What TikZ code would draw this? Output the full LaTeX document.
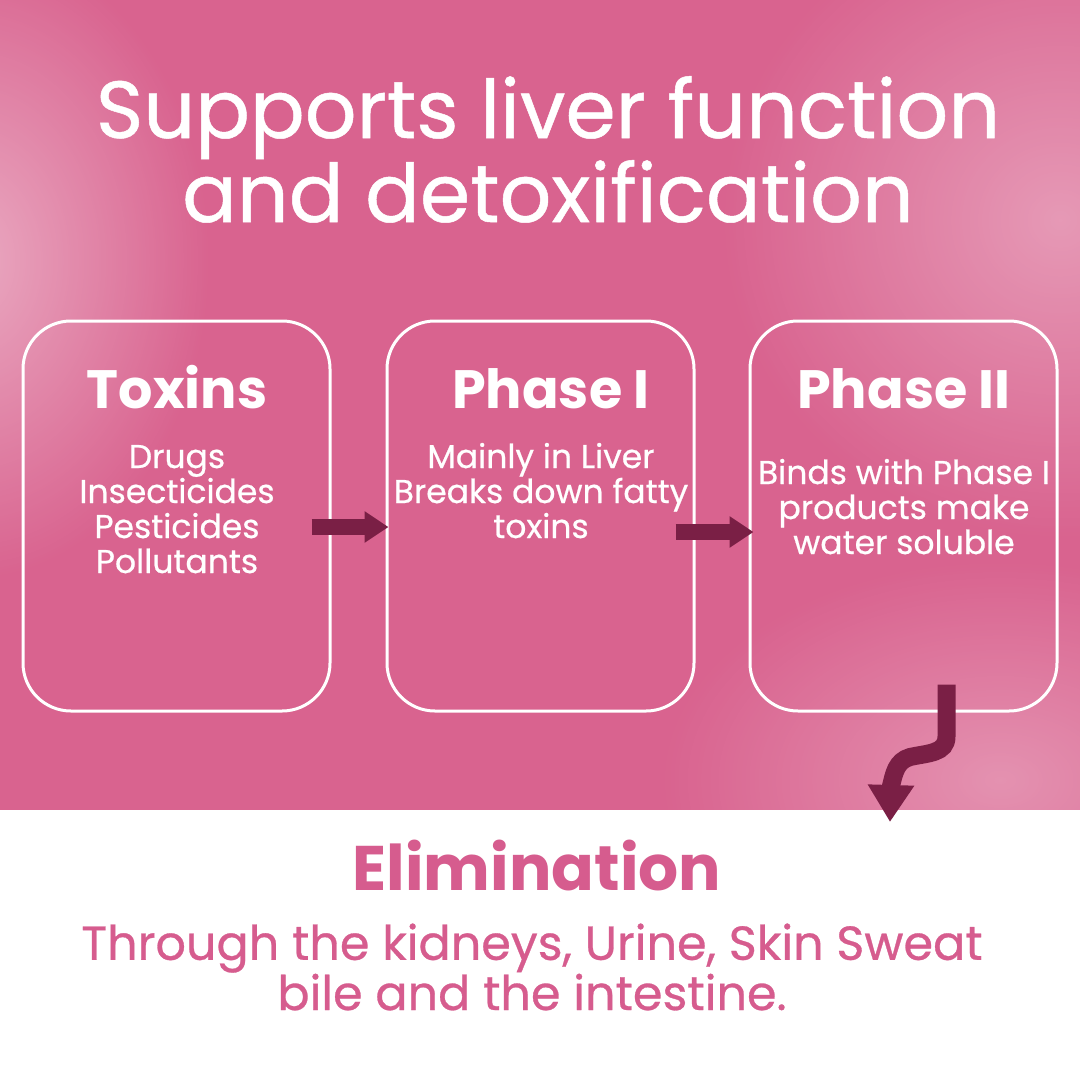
\documentclass[tikz,border=0pt]{standalone}
\usepackage{fontspec}
\setmainfont{Poppins}
\newfontfamily\mediumfont[FakeBold=0.6]{Poppins}
\usetikzlibrary{positioning, calc, arrows.meta, fadings}

\definecolor{bgpink}{HTML}{D9638F}
\definecolor{arrowred}{HTML}{7A1F45}
\definecolor{elimpink}{HTML}{D65C8E}
\tikzfading[name=softglow, inner color=transparent!0, outer color=transparent!100]

\begin{document}
\begin{tikzpicture}[
    x=1pt, y=-1pt,
    stage/.style={draw=white, line width=3pt, rounded corners=48pt, minimum width=307pt, minimum height=390pt, inner sep=0pt},
    stagetitle/.style={text=white, font=\fontsize{54}{60}\selectfont\bfseries, anchor=base, inner sep=0pt},
    stagetext/.style={text=white, font=\fontsize{33}{35}\mediumfont, align=center, anchor=base, inner sep=0pt},
    flow/.style={arrowred, line width=16pt, -{Triangle[length=24pt,width=30pt]}},
    bigflow/.style={arrowred, line width=18pt, -{Triangle[length=37pt,width=44pt]}},
    glow/.style={white, path fading=softglow}
]

% Background
\useasboundingbox (0,0) rectangle (1080,1080);
\fill[white] (0,0) rectangle (1080,1080);
\fill[bgpink] (0,0) rectangle (1080,810);
\begin{scope}
  \clip (0,0) rectangle (1080,810);
  \fill[glow, opacity=0.45] (-30,260) ellipse (240 and 320);
  \fill[glow, opacity=0.35] (1060,220) ellipse (340 and 320);
  \fill[glow, opacity=0.3] (1000,780) ellipse (340 and 220);
\end{scope}

% Title
\node[text=white, font=\fontsize{81}{84}\mediumfont, align=center, anchor=base, inner sep=0pt] (title) at (548,222) {Supports liver function\\and detoxification};

% Stages
\node[stage] (toxins) at (176.5,516) {};
\node[stage] (phase1) at (540.5,516) {};
\node[stage] (phase2) at (903.5,516) {};

\node[stagetitle] (toxinstitle) at (177,408) {Toxins};
\node[stagetitle] (phase1title) at (551,408) {Phase I};
\node[stagetitle] (phase2title) at (904,408) {Phase II};

\node[stagetext] (toxinstext) at (177,573) {Drugs\\Insecticides\\Pesticides\\Pollutants};
\node[stagetext] (phase1text) at (541,538) {Mainly in Liver\\Breaks down fatty\\toxins};
\node[stagetext] (phase2text) at (904,554) {Binds with Phase I\\products make\\water soluble};

% Elimination
\node[text=elimpink, font=\fontsize{63}{72}\selectfont\bfseries, anchor=base, inner sep=0pt] (elim) at (537,890) {Elimination};
\node[text=elimpink, font=\fontsize{47.7}{48}\mediumfont, align=center, anchor=base, inner sep=0pt] (elimtext) at (532,1010) {Through the kidneys, Urine, Skin Sweat\\bile and the intestine.};

% Arrows
\coordinate (drop) at ($(phase2.south)+(43,-28)$);
\coordinate (droptip) at (890,822);
\draw[flow] ($(toxins.east)+(-20,11)$) -- ($(phase1.west)+(3,11)$);
\draw[flow] ($(phase1.east)+(-20,16)$) -- ($(phase2.west)+(5,16)$);
\draw[bigflow] (drop) -- ++(0,52) .. controls +(0,17) and +(18,-4) .. (910,757) .. controls +(-14,4) and +(3,-12) .. (891,786) -- (droptip);
\end{tikzpicture}
\end{document}
